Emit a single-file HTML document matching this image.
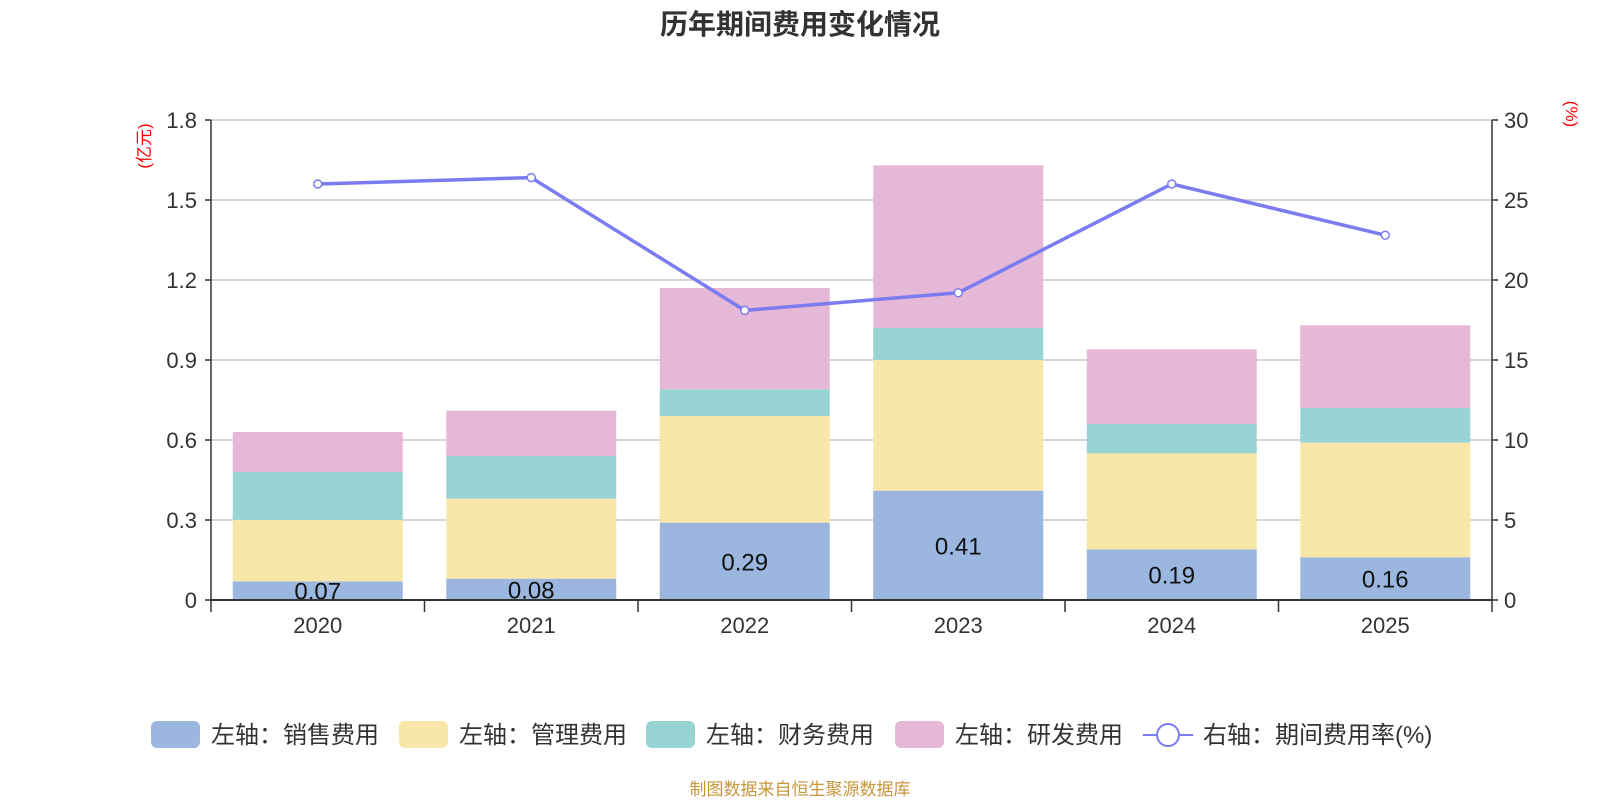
<!DOCTYPE html>
<html><head><meta charset="utf-8"><style>
body{margin:0;background:#fff;}
svg text{font-family:"Liberation Sans","Noto Sans CJK SC",sans-serif;}
</style></head><body>
<svg id="chart" width="1600" height="800" xmlns="http://www.w3.org/2000/svg">
<text x="800" y="34" text-anchor="middle" font-size="28" font-weight="bold" fill="#333">历年期间费用变化情况</text>
<g id="grid"></g><g id="bars"></g><g id="axes"></g><g id="line"></g><g id="legend"></g>
<text transform="translate(150,146) rotate(-90)" text-anchor="middle" font-size="17" fill="#f00">(亿元)</text>
<text transform="translate(1566,114) rotate(90)" text-anchor="middle" font-size="17" fill="#f00">(%)</text>
<text x="800" y="795" text-anchor="middle" font-size="17" fill="#c8963c">制图数据来自恒生聚源数据库</text>
</svg>
<script>
const categories=['2020','2021','2022','2023','2024','2025'];
const sales=[0.07,0.08,0.29,0.41,0.19,0.16];
const admin=[0.23,0.30,0.40,0.49,0.36,0.43];
const finance=[0.18,0.16,0.10,0.12,0.11,0.13];
const rnd=[0.15,0.17,0.38,0.61,0.28,0.31];
const rate=[26.0,26.4,18.1,19.2,26.0,22.8];
const leftTicks=['0','0.3','0.6','0.9','1.2','1.5','1.8'];
const rightTicks=['0','5','10','15','20','25','30'];
const seriesNames=['左轴：销售费用','左轴：管理费用','左轴：财务费用','左轴：研发费用'];
const colors=['#9bb7e0','#f8e7a8','#98d4d4','#e6b8d8'];
const NS='http://www.w3.org/2000/svg';
const L=211,R=1492,T=120,B=600;
const yL=v=>B-(v/1.8)*(B-T);
const yR=v=>B-(v/30)*(B-T);
const bw=(R-L)/categories.length;
const xC=i=>L+bw*(i+0.5);
function mk(tag,attrs,parent,txt){const e=document.createElementNS(NS,tag);for(const k in attrs)e.setAttribute(k,attrs[k]);if(txt!==undefined)e.textContent=txt;document.getElementById(parent).appendChild(e);return e;}
leftTicks.forEach((t,i)=>{const y=yL(+t);
 if(i>0){const g=mk('line',{x1:L,x2:R,y1:y,y2:y,stroke:'#c8c8c8','stroke-width':1.5},'grid');}
 const a=mk('line',{x1:L-6,x2:L,y1:y,y2:y,stroke:'#333','stroke-width':1.5},'axes');
 const tx=mk('text',{x:L-14,y:y+8,'text-anchor':'end','font-size':22,fill:'#333'},'axes',t);});
rightTicks.forEach(t=>{const y=yR(+t);
 const a=mk('line',{x1:R,x2:R+6,y1:y,y2:y,stroke:'#333','stroke-width':1.5},'axes');
 const tx=mk('text',{x:R+12,y:y+8,'font-size':22,fill:'#333'},'axes',t);});
const series=[sales,admin,finance,rnd];
categories.forEach((c,i)=>{let base=0;
 series.forEach((s,k)=>{const y0=yL(base),y1=yL(base+s[i]);
  const r=mk('rect',{x:xC(i)-85,y:y1,width:170,height:y0-y1,fill:colors[k]},'bars');
  base+=s[i];});
 const lb=mk('text',{x:xC(i),y:(yL(0)+yL(sales[i]))/2+9,'text-anchor':'middle','font-size':24,fill:'#111'},'bars',sales[i].toFixed(2));
 
 const xt=mk('text',{x:xC(i),y:B+33,'text-anchor':'middle','font-size':22,fill:'#333'},'axes',c);});
for(let i=0;i<=categories.length;i++){const t=mk('line',{x1:L+bw*i,x2:L+bw*i,y1:B,y2:B+12,stroke:'#333','stroke-width':1.5},'axes');}
[['line',{x1:L,x2:L,y1:T,y2:B+1,stroke:'#333','stroke-width':1.5},'left-axis'],['line',{x1:R,x2:R,y1:T,y2:B+1,stroke:'#333','stroke-width':1.5},'right-axis'],['line',{x1:L,x2:R,y1:B,y2:B,stroke:'#333','stroke-width':2},'x-axis']].forEach(a=>{const e=mk(a[0],a[1],'axes');});
const pl=mk('polyline',{points:rate.map((v,i)=>xC(i)+','+yR(v)).join(' '),fill:'none',stroke:'#7a7cf0','stroke-width':3.5},'line');

rate.forEach((v,i)=>{const p=mk('circle',{cx:xC(i),cy:yR(v),r:4,fill:'#fff',stroke:'#7a7cf0','stroke-width':1.5},'line');});
const lx=[151,399,646,895];
seriesNames.forEach((n,k)=>{const r=mk('rect',{x:lx[k],y:721,width:49,height:27,rx:6,fill:colors[k]},'legend');
 const t=mk('text',{x:lx[k]+60,y:743,'font-size':24,fill:'#333'},'legend',n);});
const ll=mk('line',{x1:1143,x2:1193,y1:735,y2:735,stroke:'#7a7cf0','stroke-width':2},'legend');
const lc=mk('circle',{cx:1168,cy:735,r:11,fill:'#fff',stroke:'#7a7cf0','stroke-width':2},'legend');
const lt=mk('text',{x:1203,y:743,'font-size':24,fill:'#333'},'legend','右轴：期间费用率(%)');
</script>
</body></html>
